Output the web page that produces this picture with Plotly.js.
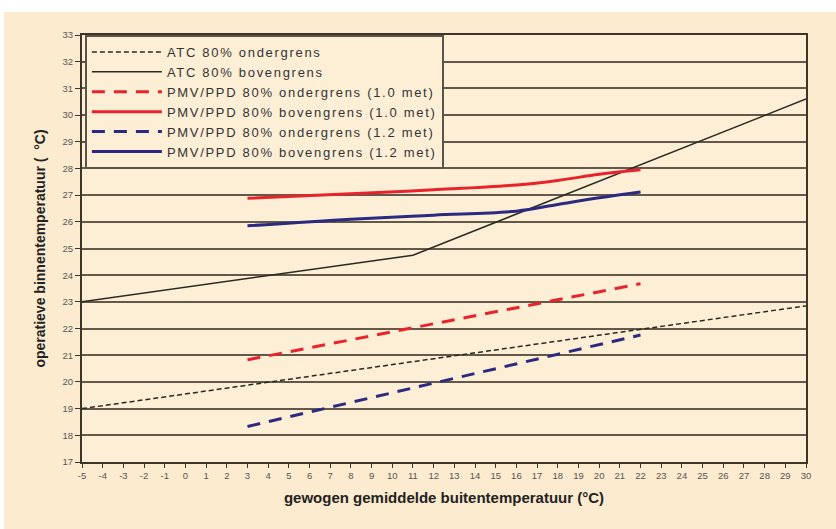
<!DOCTYPE html>
<html>
<head>
<meta charset="utf-8">
<script src="https://cdn.plot.ly/plotly-3.0.1.min.js"></script>
<style>
  html, body { margin: 0; padding: 0; background: #ffffff; }
  #chart { position: absolute; left: 4px; top: 12px; width: 832px; height: 517px; }
  text.legendtext { letter-spacing: 1.7px; }
</style>
</head>
<body>
<div id="chart"></div>
<script>
// Data
const atcOnderX = [-5, 30];
const atcOnderY = [19.0, 22.85];

const atcBovenX = [-5, 11, 30];
const atcBovenY = [23.0, 24.75, 30.6];

const pmv10OnderX = [3, 22];
const pmv10OnderY = [20.83, 23.68];

const pmv10BovenX = [3, 8, 12, 16, 18, 20, 22];
const pmv10BovenY = [26.88, 27.05, 27.2, 27.38, 27.55, 27.78, 27.95];

const pmv12OnderX = [3, 22];
const pmv12OnderY = [18.33, 21.76];

const pmv12BovenX = [3, 8, 12, 16, 18, 20, 22];
const pmv12BovenY = [25.85, 26.1, 26.25, 26.4, 26.65, 26.9, 27.12];

const seriesNames = [
  "ATC 80% ondergrens",
  "ATC 80% bovengrens",
  "PMV/PPD 80% ondergrens (1.0 met)",
  "PMV/PPD 80% bovengrens (1.0 met)",
  "PMV/PPD 80% ondergrens (1.2 met)",
  "PMV/PPD 80% bovengrens (1.2 met)"
];

const xTickVals = [];
for (let v = -5; v <= 30; v++) xTickVals.push(v);
const yTickVals = [];
for (let v = 17; v <= 33; v++) yTickVals.push(v);

const traces = [
  {x: atcOnderX, y: atcOnderY, name: seriesNames[0], mode: "lines",
   line: {color: "#2a2a22", width: 1.5, dash: "5px,3px"}},
  {x: atcBovenX, y: atcBovenY, name: seriesNames[1], mode: "lines",
   line: {color: "#2a2a22", width: 1.5}},
  {x: pmv10OnderX, y: pmv10OnderY, name: seriesNames[2], mode: "lines",
   line: {color: "#e8232b", width: 3, dash: "13px,9px"}},
  {x: pmv10BovenX, y: pmv10BovenY, name: seriesNames[3], mode: "lines",
   line: {color: "#e8232b", width: 3, shape: "spline"}},
  {x: pmv12OnderX, y: pmv12OnderY, name: seriesNames[4], mode: "lines",
   line: {color: "#2c2a80", width: 3, dash: "13px,9px"}},
  {x: pmv12BovenX, y: pmv12BovenY, name: seriesNames[5], mode: "lines",
   line: {color: "#2c2a80", width: 3, shape: "spline"}}
];

const layout = {
  width: 832, height: 517,
  margin: {l: 78, r: 30, t: 23, b: 67},
  paper_bgcolor: "#fcebcf",
  plot_bgcolor: "#fdefd6",
  showlegend: true,
  legend: {
    x: 0.004, y: 1, xanchor: "left", yanchor: "top",
    bgcolor: "#fdefd6", bordercolor: "#5a5548", borderwidth: 2,
    font: {family: "Liberation Sans, Arial, sans-serif", size: 13, color: "#333333"},
    itemwidth: 70,
    tracegroupgap: 0
  },
  xaxis: {
    range: [-5, 30], tickmode: "array", tickvals: xTickVals, ticktext: xTickVals.map(String),
    showgrid: false, zeroline: false,
    showline: true, linecolor: "#3c3528", linewidth: 2, mirror: true,
    ticks: "outside", ticklen: 4, tickcolor: "#3c3528", tickwidth: 1,
    tickfont: {family: "Liberation Sans, Arial, sans-serif", size: 9.5, color: "#555555"},
    title: {text: "gewogen gemiddelde buitentemperatuur (°C)", standoff: 12,
            font: {family: "Liberation Sans, Arial, sans-serif", size: 15, color: "#222222", weight: "bold"}}
  },
  yaxis: {
    range: [17, 33], tickmode: "array", tickvals: yTickVals, ticktext: yTickVals.map(String),
    showgrid: true, gridcolor: "#62594a", gridwidth: 2, zeroline: false,
    showline: true, linecolor: "#3c3528", linewidth: 2, mirror: true,
    ticks: "outside", ticklen: 5, tickcolor: "#3c3528", tickwidth: 1,
    tickfont: {family: "Liberation Sans, Arial, sans-serif", size: 9.5, color: "#555555"},
    title: {text: "operatieve binnentemperatuur (  °C)", standoff: 14,
            font: {family: "Liberation Sans, Arial, sans-serif", size: 14, color: "#222222", weight: "bold"}}
  }
};

Plotly.newPlot("chart", traces, layout, {displayModeBar: false, staticPlot: true});
</script>
</body>
</html>
